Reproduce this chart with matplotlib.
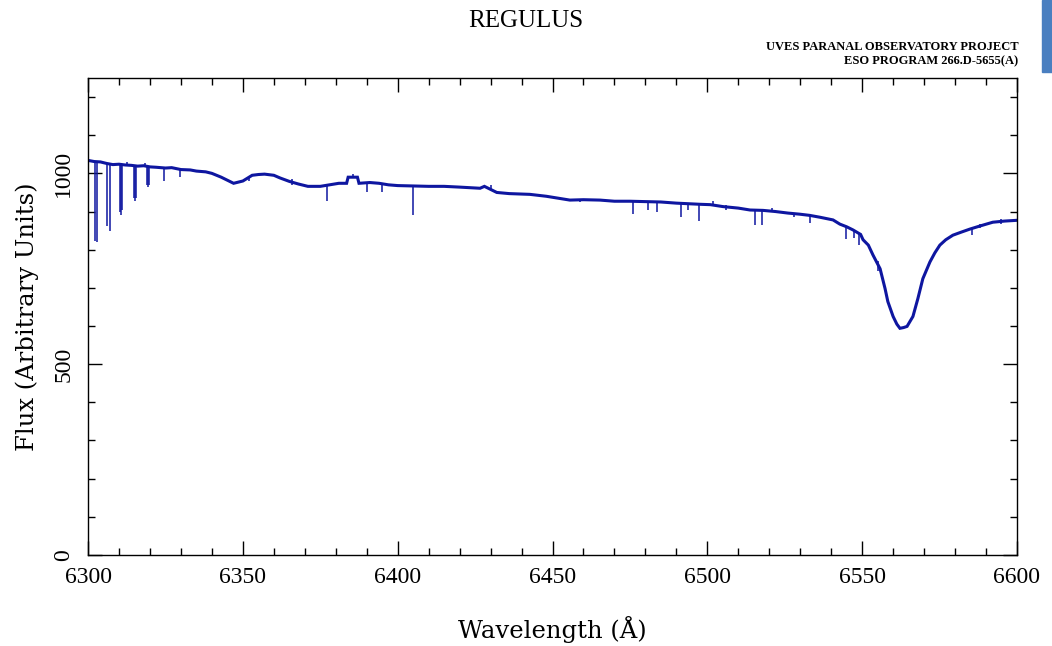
import matplotlib
matplotlib.use("Agg")
import matplotlib.pyplot as plt
from matplotlib.patches import Rectangle
from matplotlib.ticker import MultipleLocator

# continuum + H-alpha profile (wavelength in A, flux in arbitrary units)
wave = [6300.0, 6302, 6304, 6306, 6308, 6310, 6312, 6314, 6316, 6318,
        6320, 6322, 6325, 6327, 6330, 6333, 6335, 6338, 6340,
        6343, 6347, 6350, 6353, 6355, 6357, 6360, 6362, 6365, 6368, 6371, 6375, 6378, 6381,
        6383.5, 6384, 6387, 6387.5, 6391, 6394, 6397, 6400, 6405, 6410, 6415, 6420, 6426.6, 6428, 6430,
        6432, 6436, 6442.7, 6448, 6455.6, 6460, 6465.3, 6470, 6475, 6480, 6485, 6490, 6497.6, 6501, 6505, 6510, 6513.8, 6518, 6522,
        6526, 6529.9, 6533, 6536.4, 6540.6, 6542.8, 6545, 6547, 6549.5, 6550.3, 6552, 6553.5, 6555.8, 6557.4, 6558.3,
        6560, 6561.2, 6562.2, 6563.4, 6564.5, 6566.4, 6568, 6569.6, 6571.9, 6573.5, 6575.1,
        6577, 6579.3, 6582, 6584.8, 6588, 6592.2, 6596, 6600]
flux = [1034, 1031, 1030, 1026, 1023, 1024, 1022, 1021, 1019, 1020,
        1017, 1016, 1014, 1015, 1010, 1009, 1006, 1004, 1000,
        990, 974, 980, 995, 997, 998, 995, 988, 979, 972, 966, 966, 970, 974,
        974, 990, 990, 974, 976, 974, 970, 968, 967, 966, 966, 964, 961, 966, 958,
        950, 947, 945, 940, 930, 931, 930, 927, 927, 926, 925, 922, 919, 918, 913, 909, 904, 903, 900,
        896, 893, 890, 885, 878, 867, 860, 852, 840, 826, 812, 786, 750, 698, 664,
        625, 605, 594, 596, 599, 625, 672, 724, 768, 792, 812,
        826, 838, 846, 854, 862, 872, 875, 877]

# narrow absorption lines and noise spikes: position, lower end, upper end
line_w = [6302.3, 6303.0, 6306.2, 6307.1, 6310.2, 6310.6, 6311.0, 6314.8, 6315.2, 6315.6,
          6319.0, 6319.4, 6319.8, 6324.5, 6329.7, 6377.2, 6390.0, 6395.0, 6405.0, 6476.0,
          6480.8, 6483.7, 6491.5, 6493.8, 6497.3, 6515.4, 6517.7, 6533.0, 6544.8, 6547.5,
          6549.0, 6555.0, 6585.5, 6318.4, 6312.5, 6352.0, 6385.5, 6430.2, 6501.8, 6521.0,
          6506.0, 6528.0, 6588.0, 6595.0, 6366.0, 6459.0]
line_bot = [823, 820, 862, 849, 900, 891, 905, 935, 927, 935,
            970, 964, 970, 979, 990, 927, 950, 950, 891, 893,
            905, 900, 885, 905, 875, 865, 865, 870, 828, 830,
            812, 745, 838, 1019, 1022, 980, 990, 958, 917, 900,
            905, 886, 856, 868, 970, 925]
line_top = [1032, 1032, 1025, 1025, 1022, 1022, 1022, 1019, 1019, 1019,
            1017, 1017, 1017, 1014, 1010, 968, 972, 970, 966, 927,
            925, 925, 922, 922, 919, 902, 902, 890, 862, 850,
            840, 770, 855, 1028, 1030, 992, 998, 970, 927, 909,
            916, 896, 867, 880, 984, 934]

blue = "#0e16a0"
serif = "Liberation Serif"
label_font = "DejaVu Serif"

fig = plt.figure(figsize=(10.52, 6.46), dpi=100)
ax = fig.add_axes([0.0837, 0.1409, 0.883, 0.7384])

ax.plot(wave, flux, color=blue, lw=2.2, solid_joinstyle="miter")
ax.vlines(line_w, line_bot, line_top, color=blue, lw=1.1)

ax.set_xlim(6300, 6600)
ax.set_ylim(0, 1250)
ax.xaxis.set_major_locator(MultipleLocator(50))
ax.xaxis.set_minor_locator(MultipleLocator(10))
ax.yaxis.set_major_locator(MultipleLocator(500))
ax.yaxis.set_minor_locator(MultipleLocator(100))
ax.tick_params(which="both", direction="in", top=True, right=True, width=1.0, color="black")
ax.tick_params(which="major", length=10, labelsize=17)
ax.tick_params(axis="x", which="major", pad=9)
ax.tick_params(axis="y", which="major", pad=10)
ax.tick_params(which="minor", length=5)
for lab in ax.get_xticklabels() + ax.get_yticklabels():
    lab.set_family(serif)
for lab in ax.get_yticklabels():
    lab.set_rotation(90)
    lab.set_va("center")
for sp in ax.spines.values():
    sp.set_linewidth(1.0)

ax.set_xlabel("Wavelength (Å)", family=label_font, fontsize=17.5, labelpad=20)
ax.set_ylabel("Flux (Arbitrary Units)", family=label_font, fontsize=17.5, labelpad=10)

fig.text(0.5, 0.968, "REGULUS", family=serif, fontsize=18, ha="center", va="center")
fig.text(0.968, 0.927, "UVES PARANAL OBSERVATORY PROJECT", family=serif, fontsize=9,
         weight="bold", ha="right", va="center")
fig.text(0.968, 0.905, "ESO PROGRAM 266.D-5655(A)", family=serif, fontsize=9,
         weight="bold", ha="right", va="center")

# tab from the surrounding page at the top-right edge
fig.patches.append(Rectangle((1042 / 1052, 1 - 72 / 646), 10 / 1052, 72 / 646,
                             transform=fig.transFigure, color="#4a7fc0"))

fig.savefig("out.png", dpi=100)
